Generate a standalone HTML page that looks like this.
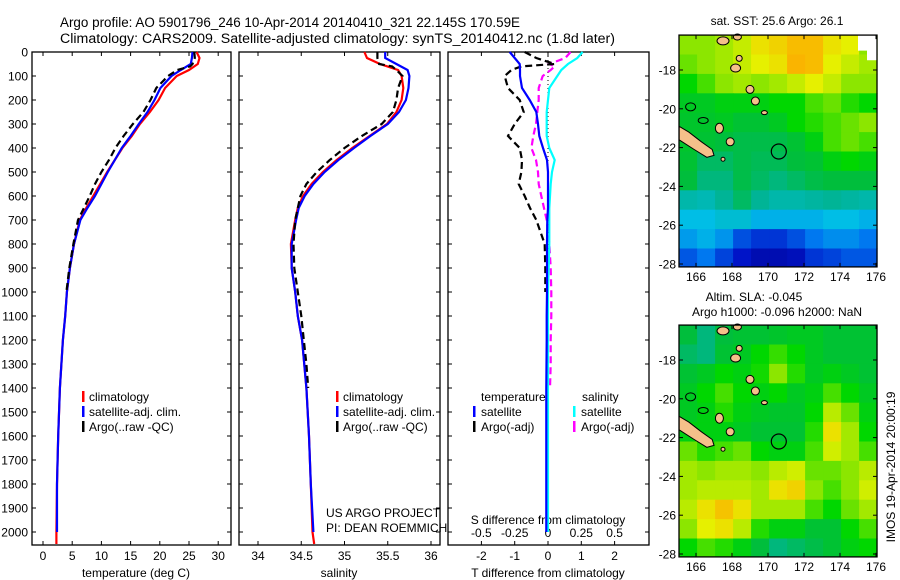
<!DOCTYPE html>
<html><head><meta charset="utf-8"><style>
html,body{margin:0;padding:0;background:#fff;}
svg{display:block;font-family:"Liberation Sans",sans-serif;}
</style></head><body>
<svg id="s" width="900" height="580" viewBox="0 0 900 580" xmlns="http://www.w3.org/2000/svg">
<text x="60" y="27" font-size="13.5" textLength="460" lengthAdjust="spacingAndGlyphs">Argo profile: AO 5901796_246 10-Apr-2014 20140410_321 22.145S 170.59E</text>
<text x="60" y="43" font-size="13.5" textLength="555" lengthAdjust="spacingAndGlyphs">Climatology: CARS2009. Satellite-adjusted climatology: synTS_20140412.nc (1.8d later)</text>
</svg>
<script>
// ---- profile data ----
const dT=[0,25,50,75,100,150,200,250,300,350,400,450,500,550,600,650,700,800,900,1000,1100,1200,1400,1600,1800,2000,2050];
const dSat=[0,25,50,75,100,150,200,250,300,350,400,450,500,550,600,650,700,800,900,1000,1100,1200,1400,1600,1800,2000];
const tClim=[26.3,26.8,26.5,25,22.9,20.9,19.8,18.3,16.6,15.2,13.6,12.3,11,9.8,8.6,7.4,6.3,5.3,4.6,4.1,3.8,3.4,2.9,2.6,2.4,2.3,2.3];
const tSat=[25.6,25.5,25.3,23.6,22.0,20.1,19.1,17.9,16.4,15.0,13.5,12.3,11.1,10.0,8.9,7.6,6.4,5.3,4.6,4.1,3.8,3.4,2.9,2.6,2.4,2.4];
const dA=[0,25,50,60,75,100,150,200,250,300,350,400,450,500,550,600,650,700,800,900,1000];
const tArgo=[25.9,26.0,25.6,25.2,23.0,21.4,19.4,18.4,17.2,15.4,13.8,12.4,11.3,10.0,8.9,8.0,7.0,6.0,5.2,4.5,4.0];
const sClim=[35.23,35.26,35.41,35.62,35.66,35.68,35.66,35.6,35.49,35.29,35.09,34.91,34.75,34.62,34.52,34.46,34.43,34.38,34.39,34.43,34.46,34.51,34.56,34.59,34.61,34.63,34.65];
const sSat=[35.47,35.47,35.6,35.73,35.75,35.74,35.71,35.63,35.5,35.3,35.11,34.93,34.77,34.64,34.54,34.47,34.44,34.39,34.39,34.43,34.46,34.51,34.56,34.59,34.61,34.64];
const dAS=[0,25,50,60,75,100,150,200,250,300,350,400,450,500,550,600,700,800,900,1000,1100,1200,1300,1400];
const sArgo=[35.38,35.38,35.4,35.55,35.6,35.67,35.62,35.6,35.56,35.43,35.2,35.0,34.83,34.68,34.56,34.49,34.43,34.41,34.42,34.46,34.5,34.53,34.56,34.58];
const tDiffSat=[-1.15,-1.0,-0.85,-0.84,-0.84,-0.78,-0.55,-0.35,-0.3,-0.26,-0.15,-0.03,0,0,0,0,-0.02,-0.03,-0.03,-0.03,-0.04,-0.04,-0.05,-0.05,-0.05,-0.05];
const sDiffSat=[0.26,0.22,0.15,0.1,0.07,0.01,0,-0.01,-0.01,-0.01,0.01,0.05,0.03,0.02,0.015,0.01,0.01,0.01,0.005,0,0,0,0,0,0,0];
const tDiffArgo=[-0.7,-0.35,0.2,-0.8,-1.1,-1.3,-1.2,-0.85,-0.73,-1.0,-1.2,-0.85,-0.78,-0.8,-0.88,-0.7,-0.54,-0.35,-0.1,-0.08,-0.08];
const sDiffArgo=[0.17,0.13,0.01,0.05,0.02,-0.04,-0.07,-0.07,-0.08,-0.09,-0.11,-0.125,-0.09,-0.075,-0.07,-0.05,-0.01,0.01,0.02,0.025,0.025,0.02,0.02,0.015];
const depthTicks=[0,100,200,300,400,500,600,700,800,900,1000,1100,1200,1300,1400,1500,1600,1700,1800,1900,2000];
const tTicks=[0,5,10,15,20,25,30];
const sTicks=[34,34.5,35,35.5,36];
const sTickLabels=["34","34.5","35","35.5","36"];
const dTTicks=[-2,-1,0,1,2];
const dSTicks=[-0.5,-0.25,0,0.25,0.5];
const dSTickLabels=["-0.5","-0.25","0","0.25","0.5"];
// ---- map data (rows north->south, cols west->east, 0..1 colour index) ----
const sstGrid=[
[0.7,0.7,0.72,0.75,0.8,0.82,0.85,0.85,0.8,0.78,0.7],
[0.68,0.7,0.72,0.75,0.78,0.8,0.86,0.85,0.78,0.75,0.72],
[0.62,0.66,0.7,0.72,0.7,0.72,0.75,0.78,0.75,0.7,0.7],
[0.58,0.58,0.6,0.6,0.6,0.62,0.62,0.66,0.68,0.64,0.62],
[0.57,0.57,0.58,0.56,0.56,0.58,0.62,0.64,0.66,0.68,0.7],
[0.57,0.56,0.55,0.54,0.54,0.54,0.56,0.6,0.66,0.68,0.66],
[0.56,0.52,0.52,0.54,0.53,0.53,0.55,0.56,0.6,0.62,0.6],
[0.55,0.5,0.5,0.54,0.52,0.5,0.52,0.54,0.55,0.55,0.55],
[0.46,0.45,0.48,0.52,0.48,0.46,0.46,0.47,0.48,0.47,0.46],
[0.4,0.4,0.42,0.42,0.38,0.38,0.38,0.38,0.4,0.4,0.38],
[0.35,0.38,0.34,0.24,0.2,0.2,0.24,0.3,0.33,0.33,0.3],
[0.25,0.3,0.22,0.15,0.1,0.1,0.12,0.2,0.22,0.25,0.25]];
const slaGrid=[
[0.55,0.5,0.55,0.56,0.56,0.57,0.58,0.58,0.56,0.56,0.56],
[0.52,0.5,0.56,0.58,0.62,0.65,0.62,0.58,0.56,0.56,0.56],
[0.56,0.58,0.62,0.6,0.63,0.7,0.64,0.58,0.6,0.58,0.56],
[0.58,0.62,0.66,0.62,0.6,0.62,0.58,0.6,0.66,0.62,0.58],
[0.58,0.6,0.64,0.6,0.58,0.57,0.57,0.62,0.74,0.68,0.6],
[0.6,0.6,0.6,0.58,0.56,0.56,0.56,0.64,0.8,0.72,0.62],
[0.68,0.64,0.66,0.68,0.62,0.6,0.6,0.66,0.76,0.72,0.66],
[0.72,0.7,0.72,0.72,0.7,0.74,0.76,0.68,0.68,0.7,0.74],
[0.72,0.74,0.74,0.74,0.72,0.8,0.82,0.7,0.66,0.7,0.76],
[0.74,0.8,0.84,0.8,0.72,0.72,0.72,0.66,0.62,0.68,0.72],
[0.7,0.78,0.8,0.74,0.64,0.6,0.6,0.56,0.56,0.62,0.66],
[0.62,0.66,0.64,0.6,0.55,0.5,0.52,0.54,0.56,0.6,0.62]];
const lonTicks=[166,168,170,172,174,176];
const latTicks=[18,20,22,24,26,28];

const NS='http://www.w3.org/2000/svg';
const S=document.getElementById('s');
function mk(tag,a,parent){const e=document.createElementNS(NS,tag);for(const k in a)e.setAttribute(k,a[k]);(parent||S).appendChild(e);return e;}
const yD=d=>52+0.24*d;
const PT=545;
const xT=t=>43+5.84*t;
const xS=s=>258+86.5*(s-34);
const xD=t=>548+33.3*t;
const xDS=s=>xD(s*4);

function box(x0,x1,nm){const r=mk('rect',{x:x0,y:52,width:x1-x0,height:PT-52,fill:'none',stroke:'#000','stroke-width':1.3});

}
function line(xs,ds,fx,color,dash,nm,w){
 const pts=xs.map((v,i)=>fx(v).toFixed(1)+','+yD(ds[i]).toFixed(1)).join(' ');
 const p=mk('polyline',{points:pts,fill:'none',stroke:color,'stroke-width':w||2.2});
 if(dash)p.setAttribute('stroke-dasharray',dash);
 
 }
function txt(x,y,s,fs,anchor,nm){const t=mk('text',{x:x,y:y,'font-size':fs,'text-anchor':anchor||'start'});t.textContent=s;
 
 return t;}
function tickLine(x1,y1,x2,y2){const l=mk('line',{x1:x1,y1:y1,x2:x2,y2:y2,stroke:'#000','stroke-width':1});
 
 }

// panels
const panels=[[32,231],[239,440],[448,649]];
panels.forEach((p,i)=>{box(p[0],p[1],'panel-'+(i+1)+'-frame');
 depthTicks.forEach(d=>{tickLine(p[0],yD(d),p[0]+4,yD(d));tickLine(p[1]-4,yD(d),p[1],yD(d));});});
depthTicks.forEach(d=>txt(28,yD(d)+4.5,String(d),12,'end','depth-tick-label'));
tTicks.forEach(t=>{tickLine(xT(t),PT,xT(t),PT-4);tickLine(xT(t),52,xT(t),56);txt(xT(t),560,String(t),12,'middle','temp-tick-label');});
sTicks.forEach((s,i)=>{tickLine(xS(s),PT,xS(s),PT-4);tickLine(xS(s),52,xS(s),56);txt(xS(s),560,sTickLabels[i],12,'middle','sal-tick-label');});
dTTicks.forEach(t=>{tickLine(xD(t),PT,xD(t),PT-4);tickLine(xD(t),52,xD(t),56);txt(xD(t),560,String(t),12,'middle','tdiff-tick-label');});
dSTicks.forEach((s,i)=>{txt(xDS(s),537,dSTickLabels[i],12,'middle','sdiff-tick-label');});
txt(136,577,'temperature (deg C)',12,'middle','x-axis-title-temperature');
txt(339,577,'salinity',12,'middle','x-axis-title-salinity');
txt(548,577,'T difference from climatology',12,'middle','x-axis-title-tdiff');
txt(548,524,'S difference from climatology',12,'middle','x-axis-title-sdiff');

// series
line(tClim,dT,xT,'#ff0000',null,'temp-climatology-line');
line(tSat,dSat,xT,'#0000ff',null,'temp-satellite-line');
line(tArgo,dA,xT,'#000',"7,4",'temp-argo-line');
line(sClim,dT,xS,'#ff0000',null,'sal-climatology-line');
line(sSat,dSat,xS,'#0000ff',null,'sal-satellite-line');
line(sArgo,dAS,xS,'#000',"7,4",'sal-argo-line');
const z=mk('line',{x1:xD(0),y1:52,x2:xD(0),y2:yD(2000),stroke:'#000','stroke-width':1,'stroke-dasharray':'1,3'});


line(sDiffArgo,dAS,xDS,'#ff00ff',"7,4",'sdiff-argo-line');
line(tDiffArgo,dA,xD,'#000',"7,4",'tdiff-argo-line');
line(sDiffSat,dSat,xDS,'#00ffff',null,'sdiff-satellite-line');
line(tDiffSat,dSat,xD,'#0000ff',null,'tdiff-satellite-line');

// legends
function mark(x,y,c,nm){const r=mk('rect',{x:x,y:y-10,width:2.5,height:11,fill:c});
 
 }
[[82,'#ff0000','climatology'],[82,'#0000ff','satellite-adj. clim.'],[82,'#000','Argo(..raw -QC)']].forEach((l,i)=>{
 mark(l[0],401+i*15,l[1],'legend-marker');txt(l[0]+7,401+i*15,l[2],12,'start','legend-entry');
 mark(336,401+i*15,l[1],'legend-marker');txt(343,401+i*15,l[2],12,'start','legend-entry');});
txt(326,517,'US ARGO PROJECT',12,'start','credit-project');
txt(326,532,'PI: DEAN ROEMMICH',12,'start','credit-pi');
txt(481,401,'temperature',12,'start','legend-title-temperature');
txt(582,401,'salinity',12,'start','legend-title-salinity');
mark(473,416,'#0000ff','legend-marker');txt(481,416,'satellite',12,'start','legend-entry');
mark(473,431,'#000','legend-marker');txt(481,431,'Argo(-adj)',12,'start','legend-entry');
mark(573,416,'#00ffff','legend-marker');txt(581,416,'satellite',12,'start','legend-entry');
mark(573,431,'#ff00ff','legend-marker');txt(581,431,'Argo(-adj)',12,'start','legend-entry');

// ---- maps ----
const stops=[[0,[0,0,130]],[0.15,[0,20,200]],[0.3,[0,120,240]],[0.4,[0,190,230]],[0.48,[0,180,150]],[0.55,[0,190,60]],[0.62,[0,215,0]],[0.7,[140,230,0]],[0.78,[230,240,0]],[0.86,[250,180,0]],[1,[240,120,0]]];
function cmap(v){for(let i=1;i<stops.length;i++){if(v<=stops[i][0]){const a=stops[i-1],b=stops[i],f=(v-a[0])/(b[0]-a[0]);
 const c=a[1].map((x,k)=>Math.round(x+(b[1][k]-x)*f));return 'rgb('+c.join(',')+')';}}return 'rgb(240,120,0)';}
const lonX=l=>696+18*(l-166);
function drawMap(grid,y18,nm,blankNE){
 const latY=la=>y18+19.4*(la-18);
 const top=latY(16.2),bot=latY(28.15);
 const g=mk('g',{});
 
 
 grid.forEach((row,j)=>row.forEach((v,i)=>{
  const lon0=165.06+i,la0=16.2+j;
  const r=mk('rect',{x:lonX(lon0).toFixed(1),y:latY(la0).toFixed(1),width:18.5,height:Math.min(19.9,bot-latY(la0)).toFixed(1),fill:cmap(v)},g);
  
  }));
 if(blankNE){const w=mk('path',{d:`M${lonX(175)} ${top} L877 ${top} L877 ${latY(17.5)} L${lonX(175.5)} ${latY(17.5)} L${lonX(175.5)} ${latY(17)} L${lonX(175)} ${latY(17)}Z`,fill:'#fff'},g);
  
  }
 const nc=[[165.06,20.9],[165.6,21.2],[166.3,21.7],[166.9,22.1],[167.0,22.4],[166.6,22.5],[165.9,22.1],[165.06,21.6]];
 const p=mk('polygon',{points:nc.map(q=>lonX(q[0]).toFixed(1)+','+latY(q[1]).toFixed(1)).join(' '),fill:'#f5c08a',stroke:'#000','stroke-width':1},g);
 
 
 [[167.5,16.5,6,4],[168.3,16.3,4,3],[168.4,17.4,3,3],[168.2,17.9,5,4],[169.0,19.0,4,4],[169.3,19.6,4,4],[169.8,20.2,3,2],[167.3,21.0,4,5],[167.9,21.7,4,4],[165.7,19.9,5,4],[166.4,20.6,5,3],[167.5,22.6,2,2]].forEach((q,k)=>{
  const e=mk('ellipse',{cx:lonX(q[0]),cy:latY(q[1]),rx:q[2],ry:q[3],fill:k>8&&k<11?'none':'#f5c08a',stroke:'#000','stroke-width':1},g);
  
  });
 const c=mk('circle',{cx:lonX(170.6),cy:latY(22.2),r:7.5,fill:'none',stroke:'#000','stroke-width':1.2},g);
 
 
 const fr=mk('rect',{x:679,y:top,width:198,height:bot-top,fill:'none',stroke:'#000','stroke-width':1.3});
 
 
 lonTicks.forEach(l=>{tickLine(lonX(l),bot,lonX(l),bot-4);tickLine(lonX(l),top,lonX(l),top+4);txt(lonX(l),bot+14,String(l),12,'middle','lon-tick-label');});
 latTicks.forEach(la=>{tickLine(679,latY(la),683,latY(la));tickLine(873,latY(la),877,latY(la));txt(676,latY(la)+4.5,'-'+la,12,'end','lat-tick-label');});
}
drawMap(sstGrid,70,'sst-map',true);
drawMap(slaGrid,360,'sla-map',false);
txt(777,25,'sat. SST: 25.6 Argo: 26.1',12,'middle','sst-map-title');
txt(754,301,'Altim. SLA: -0.045',12,'middle','sla-map-title');
txt(777,316,'Argo h1000: -0.096 h2000: NaN',12,'middle','sla-map-subtitle');
const v=txt(0,0,'IMOS 19-Apr-2014 20:00:19',12,'middle','imos-timestamp');
v.setAttribute('transform','translate(895,467) rotate(-90)');
</script>
</body></html>
